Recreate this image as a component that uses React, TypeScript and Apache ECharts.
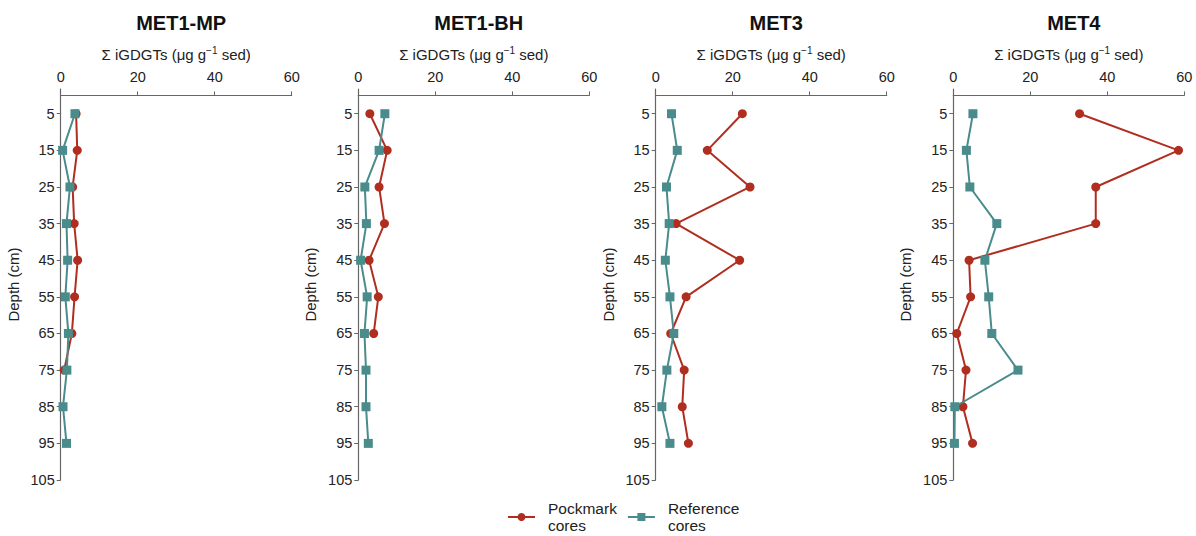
import React, { useEffect, useRef } from "react";
import * as echarts from "echarts";

const panels = ["MET1-MP", "MET1-BH", "MET3", "MET4"];
const depths = [5, 15, 25, 35, 45, 55, 65, 75, 85, 95];
const depthTicks = [5, 15, 25, 35, 45, 55, 65, 75, 85, 95, 105];

// Pockmark cores (red)
const pockMET1MP = [4.0, 4.3, 3.1, 3.5, 4.4, 3.6, 2.9, 0.9];
const pockMET1BH = [3.0, 7.5, 5.4, 6.8, 2.8, 5.2, 4.0];
const pockMET3 = [22.5, 13.4, 24.5, 5.3, 21.8, 7.9, 3.9, 7.4, 6.9, 8.5];
const pockMET4 = [32.8, 58.5, 37.0, 37.0, 4.1, 4.5, 0.9, 3.3, 2.5, 5.0];

// Reference cores (teal)
const refMET1MP = [3.7, 0.5, 2.4, 1.5, 1.8, 1.2, 2.0, 1.6, 0.6, 1.5];
const refMET1BH = [6.9, 5.4, 1.7, 2.1, 0.6, 2.3, 1.6, 2.0, 2.0, 2.6];
const refMET3 = [4.1, 5.6, 2.8, 3.5, 2.5, 3.7, 4.7, 2.9, 1.6, 3.7];
const refMET4 = [5.1, 3.4, 4.3, 11.3, 8.2, 9.2, 10.0, 16.8, 0.4, 0.3];

const pockSets = [pockMET1MP, pockMET1BH, pockMET3, pockMET4];
const refSets = [refMET1MP, refMET1BH, refMET3, refMET4];

const RED = "#b02e1f";
const TEAL = "#4a8b8b";
const FONT = "'Liberation Sans', Arial, Helvetica, sans-serif";

export default function App() {
  const ref = useRef<HTMLDivElement>(null);
  useEffect(() => {
    if (!ref.current) return;
    const chart = echarts.init(ref.current, undefined, { renderer: "svg" });
    const lefts = [60.7, 358.3, 655.7, 953.3];
    const W = 231;
    const grids = lefts.map((l) => ({ left: l, width: W, top: 89, height: 391 }));
    const xAxes = lefts.map((_, i) => ({
      type: "value",
      gridIndex: i,
      position: "top",
      min: 0,
      max: 60,
      interval: 20,
      name: "Σ iGDGTs (μg g{sup|−1} sed)",
      nameLocation: "middle",
      nameGap: 25,
      nameTextStyle: {
        fontFamily: FONT,
        fontSize: 15,
        color: "#222",
        rich: { sup: { fontSize: 10, padding: [0, 0, 9, 0], fontFamily: FONT, color: "#222" } },
      },
      axisLine: { show: true, lineStyle: { color: "#666", width: 1.2 } },
      axisTick: { show: true, length: 4, lineStyle: { color: "#666" } },
      axisLabel: { fontFamily: FONT, fontSize: 14.5, color: "#222", margin: 5 },
      splitLine: { show: false },
    }));
    const yAxes = lefts.map((_, i) => ({
      type: "value",
      gridIndex: i,
      inverse: true,
      min: -1.75,
      max: 105,
      name: "Depth (cm)",
      nameLocation: "middle",
      nameGap: 40,
      nameTextStyle: { fontFamily: FONT, fontSize: 15, color: "#222" },
      axisLine: { show: true, lineStyle: { color: "#666", width: 1.2 } },
      axisTick: { show: true, length: 4, lineStyle: { color: "#666" }, customValues: depthTicks },
      axisLabel: { fontFamily: FONT, fontSize: 14.5, color: "#222", margin: 6, customValues: depthTicks },
      splitLine: { show: false },
    }));
    const series: any[] = [];
    panels.forEach((p, i) => {
      series.push({
        name: "Pockmark\ncores",
        type: "line",
        xAxisIndex: i,
        yAxisIndex: i,
        data: pockSets[i].map((v, k) => [v, depths[k]]),
        symbol: "circle",
        symbolSize: 9,
        lineStyle: { color: RED, width: 2 },
        itemStyle: { color: RED },
        z: 2,
      });
      series.push({
        name: "Reference\ncores",
        type: "line",
        xAxisIndex: i,
        yAxisIndex: i,
        data: refSets[i].map((v, k) => [v, depths[k]]),
        symbol: "rect",
        symbolSize: 9,
        lineStyle: { color: TEAL, width: 2 },
        itemStyle: { color: TEAL },
        z: 3,
      });
    });
    const titles = panels.map((p, i) => ({
      text: p,
      left: lefts[i] + W / 2,
      top: 8,
      textAlign: "center",
      textStyle: { fontFamily: FONT, fontSize: 20, fontWeight: "bold", color: "#111" },
    }));
    chart.setOption({
      animation: false,
      backgroundColor: "#fff",
      title: titles,
      grid: grids,
      xAxis: xAxes,
      yAxis: yAxes,
      series,
      legend: {
        data: ["Pockmark\ncores", "Reference\ncores"],
        left: 507,
        top: 500,
        padding: 0,
        itemWidth: 27,
        itemHeight: 10,
        itemGap: 10,
        textStyle: { fontFamily: FONT, fontSize: 15.5, color: "#222", lineHeight: 17, padding: [0, 0, 0, 8] },
      },
    });
    return () => chart.dispose();
  }, []);
  return (
    <div
      ref={ref}
      style={{ position: "absolute", left: 0, top: 0, width: 1196, height: 536 }}
    />
  );
}
